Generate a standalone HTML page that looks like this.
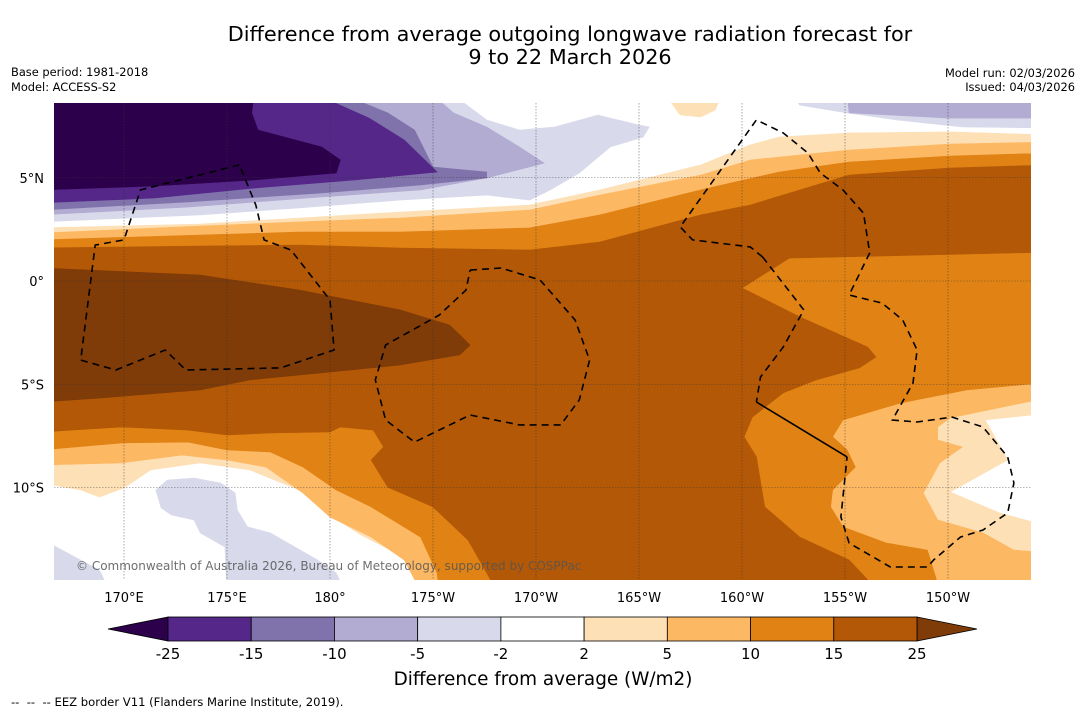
<!DOCTYPE html>
<html><head><meta charset="utf-8"><style>
body{margin:0;background:#fff;}
svg{display:block;font-family:"DejaVu Sans","Liberation Sans",sans-serif;}
</style></head><body>
<svg id="chart" width="1085" height="713" viewBox="0 0 1085 713" xmlns="http://www.w3.org/2000/svg">
<defs><clipPath id="mapclip"><rect x="54" y="103" width="977" height="477"/></clipPath></defs>
<text x="570" y="41" font-size="20.8" text-anchor="middle">Difference from average outgoing longwave radiation forecast for</text>
<text x="570" y="64" font-size="20.8" text-anchor="middle">9 to 22 March 2026</text>
<text x="11" y="76" font-size="11.4">Base period: 1981-2018</text>
<text x="11" y="91" font-size="11.4">Model: ACCESS-S2</text>
<text x="1075" y="77" font-size="11.4" text-anchor="end">Model run: 02/03/2026</text>
<text x="1075" y="91" font-size="11.4" text-anchor="end">Issued: 04/03/2026</text>
<g id="map" clip-path="url(#mapclip)">
<rect x="54" y="103" width="977" height="477" fill="#ffffff"/>
<g id="fills"></g><g id="grid"></g><g id="eez"></g>
<text x="76" y="570" font-size="12" fill="#555" fill-opacity="0.85">© Commonwealth of Australia 2026, Bureau of Meteorology, supported by COSPPac</text>
</g>
<g id="ticks"></g>
<g id="colorbar"></g>
<text x="543" y="685" font-size="18.4" text-anchor="middle">Difference from average (W/m2)</text>
<text x="11" y="706" font-size="11.6" xml:space="preserve">--  --  -- EEZ border V11 (Flanders Marine Institute, 2019).</text>
</svg>
<script>
const lonTicks=[170,175,180,185,190,195,200,205,210];
const lonLabels=["170°E","175°E","180°","175°W","170°W","165°W","160°W","155°W","150°W"];
const latTicks=[5,0,-5,-10];
const latLabels=["5°N","0°","5°S","10°S"];
const cbLabels=["-25","-15","-10","-5","-2","2","5","10","15","25"];
const cbColors=["#542788","#8073ac","#b2abd2","#d8daeb","#ffffff","#fee0b6","#fdb863","#e08214","#b35806"];
const cbUnder="#2d004b", cbOver="#7f3b08";
// contour regions, [lon(°E, 0-360), lat]
const regionGE2=[[166,2.57],[173.7,2.76],[178.5,3.05],[183.4,3.34],[189.7,3.68],[193.1,4.41],[198,5.62],[200.4,6.59],[201.8,6.97],[205.2,7.17],[210.1,7.22],[215,7.07],[215,-6.39],[211.8,-6.73],[212.9,-8.67],[210.1,-10.22],[212.5,-11.23],[215,-11.91],[215,-15],[184.9,-15],[183.4,-13.27],[181.5,-12.3],[180,-11.33],[178.5,-10.12],[176.1,-9.15],[173.7,-8.81],[171.3,-9.15],[170,-10.02],[168.8,-10.46],[167.9,-10.12],[166,-9.78]];
const regionGE5=[[166,2.32],[173.7,2.66],[178.5,2.86],[183.4,3.05],[189.7,3.44],[193.1,4.16],[198,5.13],[200.4,5.86],[205.2,6.34],[210.1,6.63],[215,6.73],[215,-5.62],[210.1,-6.63],[209.5,-7.07],[209.5,-7.7],[210.7,-8.04],[209.6,-8.81],[208.8,-10.27],[209.5,-11.57],[211.7,-12.2],[213.2,-13.03],[215,-13.17],[215,-15],[184.4,-15],[183.6,-13.51],[182,-12.4],[180,-11.43],[178.7,-10.27],[176.9,-9.01],[175,-8.67],[172.8,-8.43],[169.9,-8.81],[166,-8.91]];
const regionGE10=[[166,1.99],[173.7,2.23],[178.5,2.37],[183.4,2.37],[189.7,2.57],[193.1,3.2],[198,4.41],[201.8,5.28],[205.2,5.76],[210.1,6.05],[215,6.2],[215,-4.89],[210.9,-5.28],[207.7,-5.91],[204.9,-6.73],[204.4,-7.55],[205.1,-8.18],[205.5,-9.01],[204.4,-10.12],[204.3,-10.94],[204.9,-11.91],[207,-12.69],[209,-13.03],[209.6,-15],[185.3,-15],[185.2,-14.14],[184.4,-12.4],[182,-10.94],[180.3,-10.12],[178.7,-9.01],[177.1,-8.28],[175,-8.18],[173.1,-7.8],[169.9,-7.84],[166,-8.18]];
const regionGE15=[[166,1.6],[173.7,1.69],[178.5,1.74],[183.4,1.6],[189.7,1.5],[193.1,1.89],[198,3.2],[200.4,3.68],[205.2,5.13],[210.1,5.47],[215,5.62],[215,1.4],[202.3,1.11],[200,-0.34],[202.8,-1.74],[206.1,-3.2],[206.5,-3.68],[205.7,-4.21],[203.6,-4.79],[202,-5.42],[200.5,-6.59],[200.1,-7.55],[200.7,-8.52],[201.1,-10.94],[202.8,-12.4],[205.2,-13.51],[206.6,-15],[188.1,-15],[186.7,-12.54],[185,-10.94],[182.8,-9.98],[182,-8.67],[182.6,-8.04],[182.1,-7.22],[180.5,-7.07],[180,-7.31],[177.1,-7.36],[175,-7.46],[173.1,-7.22],[169.9,-7.07],[166,-7.31]];
const regionGE25=[[166,0.63],[173.7,0.29],[178.5,-0.44],[183.4,-1.4],[185.8,-2.13],[186.8,-3.1],[186.3,-3.58],[183.4,-4.07],[181,-4.31],[176.1,-4.79],[173.7,-5.28],[168.8,-5.67],[166,-5.86]];
const regionLE2=[[166,9],[186,9],[187.6,7.8],[189.2,7.31],[190.9,7.46],[193,8.04],[195,7.55],[195.5,7.46],[195.2,6.97],[193.6,6.49],[192.1,5.23],[190.7,4.41],[189.7,3.92],[187.6,4.16],[183.4,3.92],[178.5,3.54],[173.7,3.2],[166,2.86]];
const regionLE5=[[166,9],[185,9],[186,8.14],[187.6,7.46],[189.2,6.49],[190.4,5.71],[187.6,4.99],[184.4,4.41],[179.6,4.07],[173.1,3.58],[166,3.2]];
const regionLE10=[[166,9],[180.7,9],[182.8,8.14],[184.1,7.31],[185,5.52],[187.6,5.28],[187.6,4.99],[184.4,4.65],[179.6,4.26],[173.1,3.83],[166,3.44]];
const regionLE15=[[166,9],[179.4,9],[181.9,7.89],[183.6,6.83],[185.2,5.28],[181.2,4.89],[176.3,4.5],[171.5,4.02],[166,3.78]];
const regionLE25=[[166,9],[176.3,9],[176.2,8.14],[176.5,7.31],[179.6,6.49],[180.5,5.86],[180.3,5.23],[176.3,4.89],[171.5,4.6],[166,4.41]];
const regionNE2=[[202.5,9],[215,9],[215,7.41],[210.7,7.46],[207.5,7.8],[205.1,8.14],[202.8,8.52]];
const regionNE5=[[205.1,9],[205.2,8.14],[210,7.89],[215,7.89],[215,9]];
const regionPeachTop=[[196.3,9],[197,8.04],[198,7.94],[198.7,8.28],[199,9]];
const regionSWLE2=[[171.55,-10.12],[172.1,-9.64],[173.4,-9.54],[174.7,-9.78],[175.4,-10.27],[175.5,-11.09],[176,-11.91],[177.1,-12.2],[178.3,-12.88],[179.4,-13.51],[180.3,-14.14],[180.7,-15],[175,-15],[174.9,-12.88],[173.7,-12.2],[173.4,-11.57],[172.3,-11.33],[171.8,-10.99]];
const regionCornerLE2=[[166,-12.5],[168.8,-14],[169.3,-15],[166,-15]];
const eezA=[[175.6,5.62],[170.8,4.41],[170,1.99],[168.6,1.74],[167.9,-3.83],[169.6,-4.31],[172,-3.34],[173,-4.31],[177.6,-4.21],[180.2,-3.34],[180,-0.92],[178.1,1.5],[176.8,1.99],[176.4,3.68],[175.6,5.62]];
const eezB=[[186.8,0.53],[188.3,0.63],[190.2,0.05],[191.9,-1.89],[192.6,-3.83],[192.1,-5.76],[191.2,-6.97],[189.2,-6.97],[186.8,-6.49],[184.1,-7.8],[182.7,-6.73],[182.2,-4.79],[182.7,-3.1],[185.3,-1.65],[186.6,-0.44],[186.8,0.53]];
const eezC=[[201,1.16],[200.4,1.65],[197.6,1.99],[197,2.62],[200.7,7.8],[202,7.17],[203.2,6.2],[203.8,5.23],[204.9,4.41],[205.9,3.29],[206.2,1.36],[205.2,-0.68],[206.8,-1.07],[207.8,-1.89],[208.5,-3.34],[208.3,-4.94],[207.3,-6.73],[208.5,-6.83],[210.2,-6.59],[211.7,-7.07],[212.9,-8.52],[213.2,-9.78],[212.9,-11.23],[211.7,-12.06],[210.6,-12.4],[209.3,-13.51],[209,-13.85],[207.2,-13.85],[205.2,-12.69],[204.8,-11.43],[205.1,-8.52]];
const eezD=[[201,1.16],[203,-1.4],[202,-3.2],[200.9,-4.65],[200.7,-5.86]];
const eezSolid=[[200.7,-5.86],[205.1,-8.52]];

const NS="http://www.w3.org/2000/svg";
function X(lon){return 124+(lon-170)*20.6;}
function Y(lat){return 281-lat*20.65;}
function pts(a){return a.map(p=>X(p[0]).toFixed(1)+","+Y(p[1]).toFixed(1)).join(" ");}
function mk(tag,attrs,parent){const e=document.createElementNS(NS,tag);for(const k in attrs)e.setAttribute(k,attrs[k]);parent.appendChild(e);return e;}

const fills=document.getElementById('fills');
const layers=[[regionGE2,"#fee0b6","contour-ge-2"],[regionGE5,"#fdb863","contour-ge-5"],[regionGE10,"#e08214","contour-ge-10"],[regionGE15,"#b35806","contour-ge-15"],[regionGE25,"#7f3b08","contour-ge-25"],
[regionPeachTop,"#fee0b6","contour-ge-2-north"],
[regionLE2,"#d8daeb","contour-le-m2"],[regionLE5,"#b2abd2","contour-le-m5"],[regionLE10,"#8073ac","contour-le-m10"],[regionLE15,"#542788","contour-le-m15"],[regionLE25,"#2d004b","contour-le-m25"],
[regionNE2,"#d8daeb","contour-le-m2-northeast"],[regionNE5,"#b2abd2","contour-le-m5-northeast"],
[regionSWLE2,"#d8daeb","contour-le-m2-southwest"],[regionCornerLE2,"#d8daeb","contour-le-m2-corner"]];
layers.forEach(l=>{
  const p=mk('polygon',{points:pts(l[0]),fill:l[1],stroke:l[1],'stroke-width':0.6},fills);
  
  
});
const grid=document.getElementById('grid');
lonTicks.forEach(v=>{
  const g=mk('line',{x1:X(v),x2:X(v),y1:103,y2:580,stroke:'#333','stroke-width':0.6,'stroke-dasharray':'1.5,1.5','stroke-opacity':0.7},grid);
  
  
});
latTicks.forEach(v=>{
  const g=mk('line',{x1:54,x2:1031,y1:Y(v),y2:Y(v),stroke:'#333','stroke-width':0.6,'stroke-dasharray':'1.5,1.5','stroke-opacity':0.7},grid);
  
  
});
const eez=document.getElementById('eez');
[eezA,eezB,eezC,eezD].forEach(a=>{
  const e=mk('polyline',{points:pts(a),fill:'none',stroke:'#000','stroke-width':1.6,'stroke-dasharray':'7,5'},eez);
  
  
});
const es=mk('polyline',{points:pts(eezSolid),fill:'none',stroke:'#000','stroke-width':1.6},eez);



const ticks=document.getElementById('ticks');
lonTicks.forEach((v,i)=>{
  const t=mk('text',{x:X(v),y:602,'font-size':13,'text-anchor':'middle'},ticks);t.textContent=lonLabels[i];
  
  
});
latTicks.forEach((v,i)=>{
  const t=mk('text',{x:44,y:Y(v)+5,'font-size':13,'text-anchor':'end'},ticks);t.textContent=latLabels[i];
  
  
});

const cb=document.getElementById('colorbar');
const cbX0=168,cbX1=917,cbY=617,cbH=24;
const w=(cbX1-cbX0)/cbColors.length;
const ul=mk('polygon',{points:`${cbX0},${cbY} 108,${cbY+cbH/2} ${cbX0},${cbY+cbH}`,fill:cbUnder,stroke:'#000','stroke-width':0.8},cb);


const ov=mk('polygon',{points:`${cbX1},${cbY} 977,${cbY+cbH/2} ${cbX1},${cbY+cbH}`,fill:cbOver,stroke:'#000','stroke-width':0.8},cb);


cbColors.forEach((c,i)=>{
  const r=mk('rect',{x:cbX0+i*w,y:cbY,width:w,height:cbH,fill:c,stroke:'#000','stroke-width':0.8},cb);
  
  
});
cbLabels.forEach((s,i)=>{
  const t=mk('text',{x:cbX0+i*w,y:659,'font-size':15,'text-anchor':'middle'},cb);t.textContent=s;
  
  
});
</script>
</body></html>
